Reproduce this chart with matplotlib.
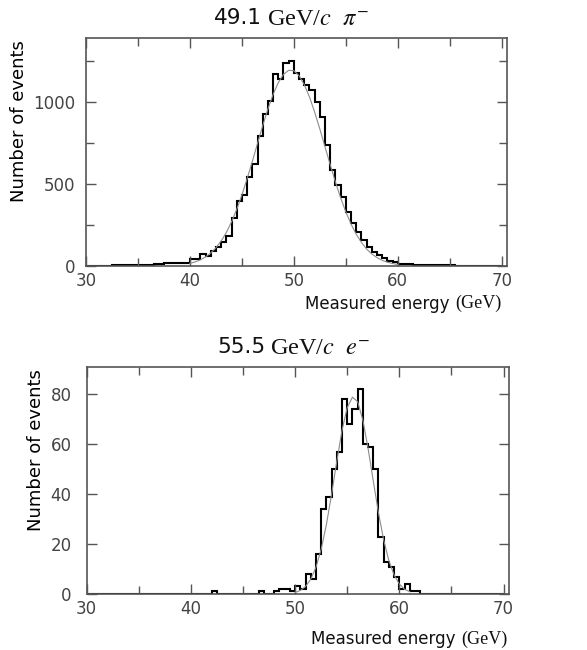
import numpy as np
import matplotlib
matplotlib.use("Agg")
import matplotlib.pyplot as plt
from matplotlib.ticker import MultipleLocator

plt.rcParams['mathtext.fontset'] = 'stix'
plt.rcParams['font.family'] = ['DejaVu Sans']

# bin edges: 0.5 GeV bins from 30 to 70 GeV
edges = np.arange(30.0, 70.01, 0.5)

# pi- 49.1 GeV/c, counts per bin (30.0 ... 69.5)
pion_counts = [
    0, 0, 0, 0, 0, 3, 3, 4, 4, 5,
    5, 6, 8, 10, 13, 16, 18, 18, 17, 17,
    40, 42, 75, 62, 90, 114, 148, 180, 290, 398,
    430, 545, 622, 795, 925, 1004, 1170, 1142, 1238, 1250,
    1178, 1138, 1104, 1073, 1002, 911, 738, 585, 494, 423,
    331, 264, 209, 159, 115, 88, 65, 50, 28, 22,
    12, 11, 10, 9, 8, 7, 6, 5, 4, 3,
    3, 2, 0, 0, 0, 0, 0, 0, 0, 0,
]

# e- 55.5 GeV/c, counts per bin (30.0 ... 69.5)
elec_counts = [
    0, 0, 0, 0, 0, 0, 0, 0, 0, 0,
    0, 0, 0, 0, 0, 0, 0, 0, 0, 0,
    0, 0, 0, 0, 1, 0, 0, 0, 0, 0,
    0, 0, 0, 1, 0, 0, 1, 2, 2, 1,
    3, 2, 8, 6, 16, 34, 39, 50, 57, 78,
    68, 74, 82, 60, 59, 50, 23, 13, 11, 7,
    2, 4, 1, 1, 0, 0, 0, 0, 0, 0,
    0, 0, 0, 0, 0, 0, 0, 0, 0, 0,
]

# fitted curves
pion_fit_e = np.arange(40.0, 60.01, 0.5)
pion_fit = [16, 25, 37, 55, 79, 111, 152, 204, 269, 345,
            433, 532, 637, 747, 855, 957, 1046, 1118, 1168, 1193,
            1190, 1160, 1105, 1030, 937, 834, 725, 616, 511, 415,
            329, 255, 193, 143, 103, 73, 51, 34, 23, 15, 9]

elec_fit_e = np.arange(50.0, 61.01, 0.5)
elec_fit = [0.6, 1.4, 3.0, 5.9, 10.7, 17.9, 27.8, 40.0, 53.2, 65.6,
            74.7, 78.9, 77.1, 69.7, 58.4, 45.3, 32.5, 21.6, 13.3, 7.6,
            4.0, 1.9, 0.9]

fig = plt.figure(figsize=(5.87, 6.5), dpi=100)
ax1 = fig.add_axes([0.1465, 0.5908, 0.7172, 0.3508])
ax2 = fig.add_axes([0.1477, 0.0862, 0.7190, 0.3492])


def style_axis(ax, ymax, ymajor, yminor, ypad):
    ax.set_xlim(30, 70.5)
    ax.set_ylim(0, ymax)
    ax.xaxis.set_major_locator(MultipleLocator(10))
    ax.xaxis.set_minor_locator(MultipleLocator(5))
    ax.yaxis.set_major_locator(MultipleLocator(ymajor))
    if yminor:
        ax.yaxis.set_minor_locator(MultipleLocator(yminor))
    ax.tick_params(which='both', direction='in', top=True, right=True,
                   color='#555555', width=1.0)
    ax.tick_params(which='major', length=7, labelsize=12, labelcolor='#444444')
    ax.tick_params(which='minor', length=6)
    ax.tick_params(axis='x', which='major', pad=4)
    ax.tick_params(axis='y', which='major', pad=ypad)
    for s in ax.spines.values():
        s.set_color('#555555')
        s.set_linewidth(1.2)


def title_parts(ax, split, num, rest):
    ax.text(split, 1.088, num, transform=ax.transAxes, ha='right', va='center',
            fontsize=15.5, color='#111111')
    ax.text(split + 0.012, 1.083, rest, transform=ax.transAxes, ha='left', va='center',
            fontsize=17.5, family='Liberation Serif', color='#111111')


def xlabel_parts(ax, split, right, y):
    ax.text(split, y, "Measured energy", transform=ax.transAxes, ha='right',
            va='center', fontsize=12, color='#111111')
    ax.text(right, y, "(GeV)", transform=ax.transAxes, ha='right',
            va='center', fontsize=13, family='Liberation Serif', color='#111111')


style_axis(ax1, 1390, 500, 250, 8)
ax1.stairs(pion_counts, edges, color='black', linewidth=1.5)
ax1.plot(pion_fit_e, pion_fit, color='#8c8c8c', linewidth=0.8)
title_parts(ax1, 0.418, "49.1", r"GeV/$\mathit{c}$  $\pi^{-}$")
ax1.set_ylabel("Number of events", fontsize=13)
ax1.yaxis.set_label_coords(-0.138, 0.636)
xlabel_parts(ax1, 0.864, 0.988, -0.165)

style_axis(ax2, 91, 20, None, 11)
ax2.stairs(elec_counts, edges, color='black', linewidth=1.5)
ax2.plot(elec_fit_e, elec_fit, color='#8c8c8c', linewidth=0.8)
title_parts(ax2, 0.4225, "55.5", r"GeV/$\mathit{c}$  $\mathit{e}^{-}$")
ax2.set_ylabel("Number of events", fontsize=13)
ax2.yaxis.set_label_coords(-0.099, 0.634)
xlabel_parts(ax2, 0.875, 0.996, -0.198)

fig.savefig("out.png", dpi=100, facecolor='white')
